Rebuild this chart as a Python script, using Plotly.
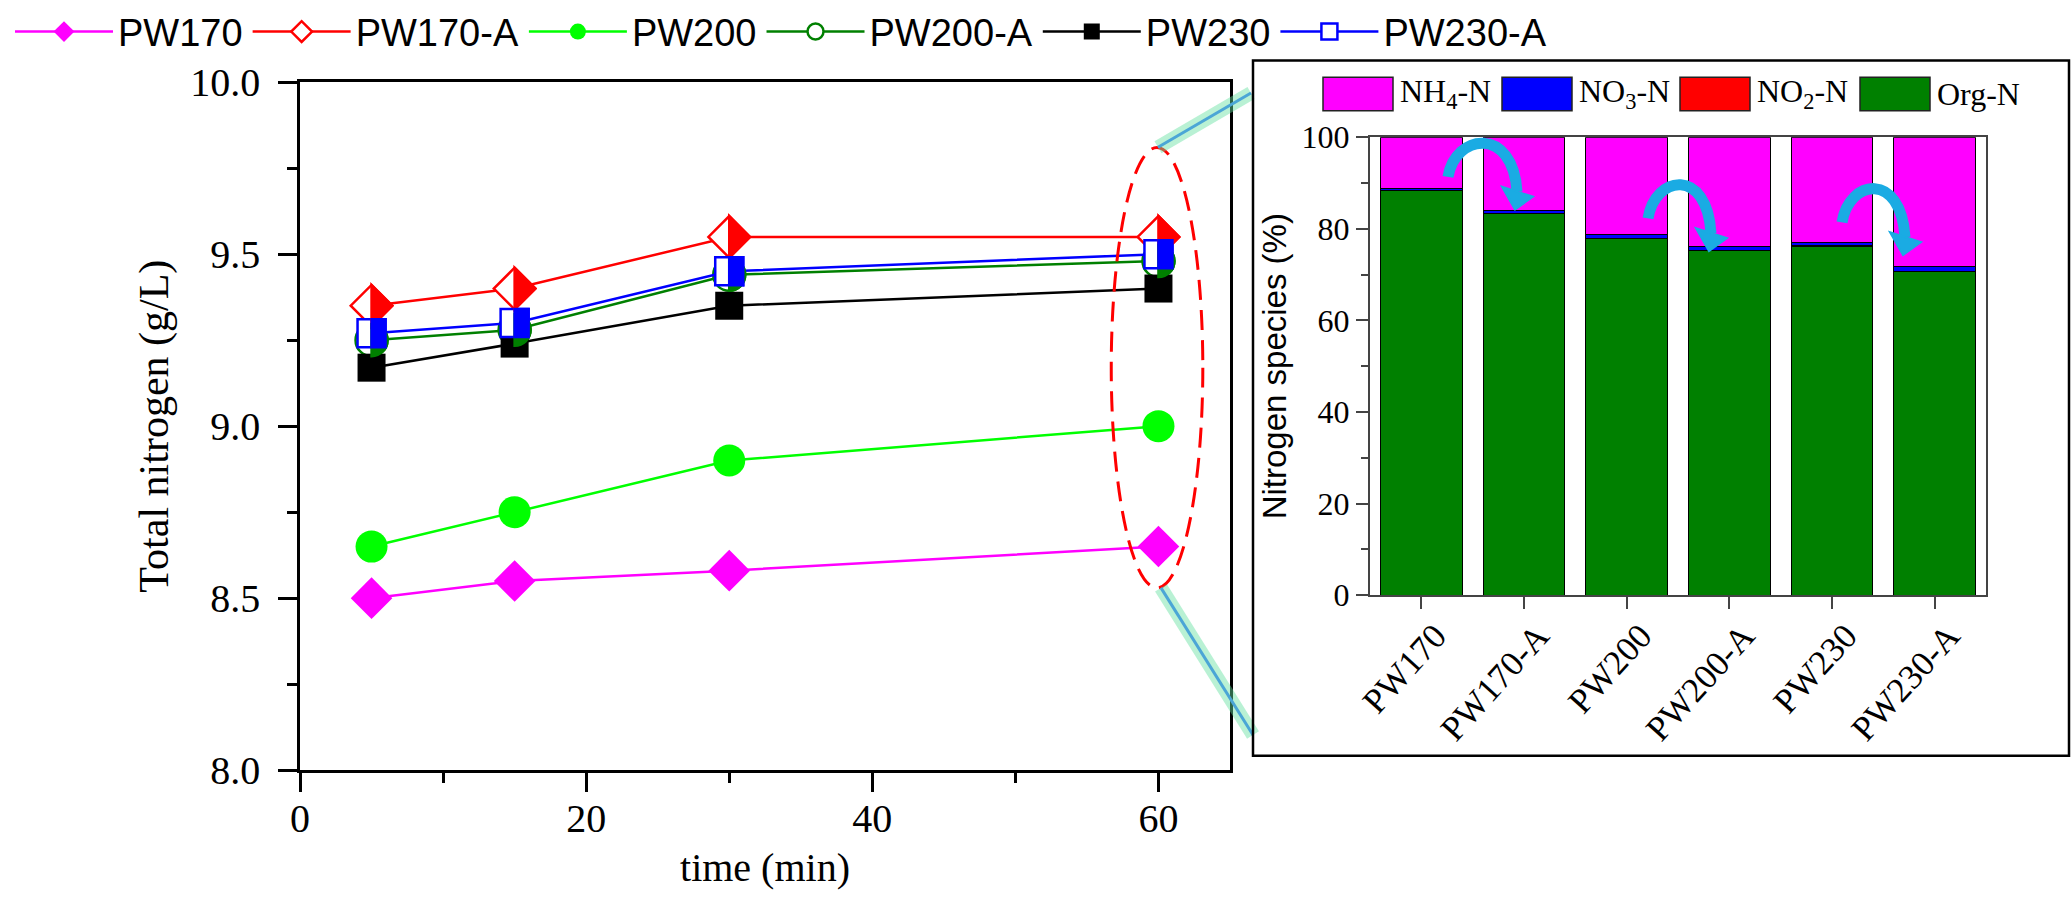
import plotly.graph_objects as go

W, H = 2072, 898


def px(x):
    return x / W


def py(y):
    return 1 - y / H


# ---------------- data: total nitrogen vs time ----------------
time_min = [5, 15, 30, 60]
pw170 = [8.50, 8.55, 8.58, 8.65]
pw170_a = [9.35, 9.40, 9.55, 9.55]
pw200 = [8.65, 8.75, 8.90, 9.00]
pw200_a = [9.25, 9.28, 9.44, 9.48]
pw230 = [9.17, 9.24, 9.35, 9.40]
pw230_a = [9.27, 9.30, 9.45, 9.50]

# ---------------- data: nitrogen species (%) at 60 min ----------------
samples = ["PW170", "PW170-A", "PW200", "PW200-A", "PW230", "PW230-A"]
org_n = [88.3, 83.3, 77.8, 75.2, 76.2, 70.6]
no2_n = [0.1, 0.1, 0.1, 0.1, 0.1, 0.1]
no3_n = [0.4, 0.5, 0.8, 0.8, 0.8, 1.0]
nh4_n = [11.2, 16.1, 21.3, 23.9, 22.9, 28.3]

SERIF = "Liberation Serif, Times New Roman, serif"
SANS = "Liberation Sans, Arial, sans-serif"

fig = go.Figure()

series = [
    ("PW170", pw170, "#FF00FF", "diamond", 32, False),
    ("PW170-A", pw170_a, "#FF0000", "diamond", 32, True),
    ("PW200", pw200, "#00FF00", "circle", 32, False),
    ("PW200-A", pw200_a, "#008000", "circle", 32, True),
    ("PW230", pw230, "#000000", "square", 28, False),
    ("PW230-A", pw230_a, "#0000FF", "square", 28, True),
]

for name, vals, color, symbol, size, half in series:
    fig.add_trace(go.Scatter(
        x=time_min, y=vals, name=name, mode="lines+markers",
        line=dict(color=color, width=2.5),
        marker=dict(symbol=symbol, size=size,
                    color="white" if half else color,
                    line=dict(color=color, width=2.5 if half else 0)),
        xaxis="x", yaxis="y", legend="legend",
    ))

# stacked bars (inset)
bar_series = [
    ("Org-N", org_n, "#008000"),
    ("NO2-N", no2_n, "#FF0000"),
    ("NO3-N", no3_n, "#0000FF"),
    ("NH4-N", nh4_n, "#FF00FF"),
]
for name, vals, color in bar_series:
    fig.add_trace(go.Bar(
        x=samples, y=vals, name=name, showlegend=False,
        marker=dict(color=color, line=dict(color="black", width=1)),
        xaxis="x2", yaxis="y2",
    ))

shapes = []

# half-filled markers for the "-A" series (right half filled)
half_paths = {
    "diamond": "M0,-20.8 L20.8,0 L0,20.8 Z",
    "circle": "M0,-16 C8.84,-16 16,-8.84 16,0 C16,8.84 8.84,16 0,16 Z",
    "square": "M0,-14 L14,-14 L14,14 L0,14 Z",
}
for name, vals, color, symbol, size, half in series:
    if not half:
        continue
    for t, v in zip(time_min, vals):
        shapes.append(dict(
            type="path", xref="x", yref="y", xsizemode="pixel", ysizemode="pixel",
            xanchor=t, yanchor=v, path=half_paths[symbol],
            fillcolor=color, line=dict(color=color, width=2.5), layer="above",
        ))

# dashed ellipse around the 60 min points
shapes.append(dict(type="circle", xref="x", yref="y", x0=56.7, x1=63.1, y0=8.53, y1=9.81,
                   line=dict(color="#FF0000", width=3, dash="20px,10px"), layer="above"))

# glowing connector lines to the inset
for (x0, y0, x1, y1) in [(1158, 138, 1251, 83), (1161, 584, 1253, 733)]:
    shapes.append(dict(type="line", xref="paper", yref="paper",
                       x0=px(x0), y0=py(y0), x1=px(x1), y1=py(y1),
                       line=dict(color="rgba(100,225,160,0.45)", width=14), layer="above"))
    shapes.append(dict(type="line", xref="paper", yref="paper",
                       x0=px(x0), y0=py(y0), x1=px(x1), y1=py(y1),
                       line=dict(color="#4BA6D6", width=3), layer="above"))

# inset frame
shapes.append(dict(type="rect", xref="paper", yref="paper",
                   x0=px(1253), x1=px(2069), y0=py(754), y1=py(50),
                   line=dict(color="black", width=2.5), fillcolor="rgba(0,0,0,0)", layer="above"))

# inset legend swatches and labels
inset_legend = [
    ("NH<sub>4</sub>-N", "#FF00FF", 1323),
    ("NO<sub>3</sub>-N", "#0000FF", 1502),
    ("NO<sub>2</sub>-N", "#FF0000", 1680),
    ("Org-N", "#008000", 1860),
]
annotations = []
for label, color, x in inset_legend:
    shapes.append(dict(type="rect", xref="paper", yref="paper",
                       x0=px(x), x1=px(x + 70), y0=py(101), y1=py(67),
                       fillcolor=color, line=dict(color="#222222", width=1.5), layer="above"))
    annotations.append(dict(xref="paper", yref="paper", x=px(x + 75), y=py(84),
                            xanchor="left", yanchor="middle", text=label, showarrow=False,
                            font=dict(family=SERIF, size=32, color="black")))


# curved arrows in the inset
def P(x, y):
    return f"{px(x):.5f},{py(y):.5f}"


def arrow(dx, dy, w=0):
    body = (f"M{P(1448 + dx, 168 + dy)} C{P(1455 + dx, 124 + dy)} "
            f"{P(1513 + dx + w, 116 + dy)} {P(1517 + dx + w, 183 + dy)}")
    head = (f"M{P(1502 + dx + w, 178 + dy)} L{P(1533 + dx + w, 188 + dy)} "
            f"L{P(1515 + dx + w, 201 + dy)} Z")
    return body, head


for dx, dy, w in [(0, 0, 0), (200, 42, -6), (394, 46, -6)]:
    body, head = arrow(dx, dy, w)
    shapes.append(dict(type="path", xref="paper", yref="paper", path=body,
                       line=dict(color="#1AABE3", width=11), layer="above"))
    shapes.append(dict(type="path", xref="paper", yref="paper", path=head,
                       fillcolor="#1AABE3", line=dict(color="#1AABE3", width=2), layer="above"))

fig.update_layout(
    width=W, height=H,
    margin=dict(l=0, r=0, t=0, b=0),
    paper_bgcolor="white", plot_bgcolor="white",
    template="none",
    barmode="stack", bargap=0.207,
    shapes=shapes, annotations=annotations,
    legend=dict(orientation="h", x=px(10), y=1.012, xanchor="left", yanchor="top",
                font=dict(family=SANS, size=38, color="black"),
                itemwidth=98, bgcolor="rgba(0,0,0,0)", traceorder="normal"),
    xaxis=dict(domain=[px(300), px(1230)], range=[0, 65], anchor="y",
               showline=True, linecolor="black", linewidth=2.5, mirror=True,
               ticks="outside", ticklen=19, tickwidth=2.5, tickcolor="black",
               tick0=0, dtick=20, showgrid=False, zeroline=False, automargin=False,
               ticklabelstandoff=-8,
               minor=dict(ticks="outside", ticklen=10, tickwidth=2.5, tickcolor="black",
                          tick0=0, dtick=10, showgrid=False),
               tickfont=dict(family=SERIF, size=40, color="black"),
               title=dict(text="time (min)", standoff=14,
                          font=dict(family=SERIF, size=40, color="black"))),
    yaxis=dict(domain=[py(768.6), py(72)], range=[8, 10], anchor="x",
               showline=True, linecolor="black", linewidth=2.5, mirror=True,
               ticks="outside", ticklen=19, tickwidth=2.5, tickcolor="black",
               tick0=8, dtick=0.5, tickformat=".1f", showgrid=False, zeroline=False,
               automargin=False, ticklabelstandoff=10,
               minor=dict(ticks="outside", ticklen=10, tickwidth=2.5, tickcolor="black",
                          tick0=8, dtick=0.25, showgrid=False),
               tickfont=dict(family=SERIF, size=40, color="black"),
               title=dict(text="Total nitrogen (g/L)", standoff=9,
                          font=dict(family=SERIF, size=42, color="black"))),
    xaxis2=dict(domain=[px(1370), px(1986)], anchor="y2", type="category",
                range=[-0.5, 5.5], showline=True, linecolor="#444444", linewidth=2, mirror=True,
                ticks="outside", ticklen=12, tickwidth=1.5, tickcolor="#444444",
                tickangle=-48, showgrid=False, zeroline=False, automargin=False,
                ticklabelstandoff=-8, ticklabelshift=14,
                tickfont=dict(family=SERIF, size=35, color="black")),
    yaxis2=dict(domain=[py(591.5), py(127.7)], anchor="x2", range=[0, 100],
                showline=True, linecolor="#444444", linewidth=2, mirror=True,
                ticks="outside", ticklen=12, tickwidth=1.5, tickcolor="#444444",
                tick0=0, dtick=20, showgrid=False, zeroline=False, automargin=False,
                minor=dict(ticks="outside", ticklen=7, tickwidth=1.5, tickcolor="#444444",
                           tick0=0, dtick=10, showgrid=False),
                tickfont=dict(family=SERIF, size=32, color="black"),
                title=dict(text="Nitrogen species (%)", standoff=5,
                           font=dict(family=SANS, size=33, color="black"))),
)

fig.write_html("out.html", config={"displayModeBar": False},
               post_script="document.body.style.margin='0px';")
